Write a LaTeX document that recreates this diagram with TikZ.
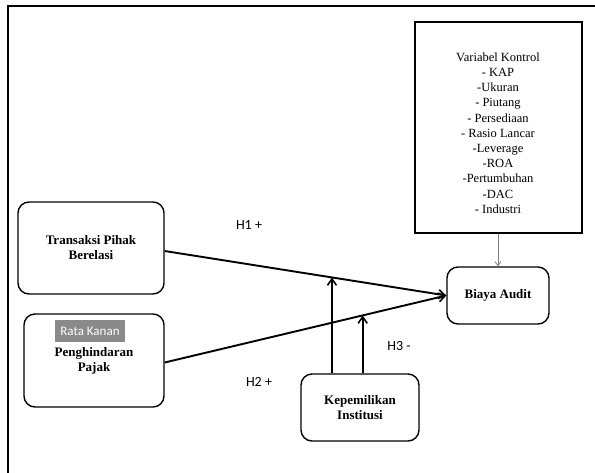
\documentclass[tikz,border=0pt]{standalone}
\usepackage{fontspec}
\setmainfont{Liberation Serif}[BoldFont={Liberation Serif Bold}]
\newfontfamily\boxfont{Liberation Serif Bold}
\newfontfamily\hfont{Carlito}
\usetikzlibrary{arrows.meta}
\definecolor{tipgray}{HTML}{8A8A8A}
\begin{document}
\begin{tikzpicture}[x=1pt,y=-1pt,
  varbox/.style={draw=black, line width=1.4pt, rounded corners=11pt, align=center, font=\boxfont\fontsize{13}{15}\selectfont, inner sep=0pt},
  conn/.style={line width=1.9pt, -{Straight Barb[length=6.5pt,width=9pt,line width=1.6pt]}},
  hlab/.style={font=\hfont\fontsize{14}{16}\selectfont, inner sep=0pt}
]
\useasboundingbox (0,0) rectangle (595,472);
% frame (left and top only)
\draw[line width=2pt] (7.5,473) -- (7.5,6) -- (596,6);

% boxes
\node[varbox, minimum width=146pt, minimum height=92pt] (t) at (91,248) {Transaksi Pihak\\Berelasi};
\node[varbox, minimum width=140pt, minimum height=93pt] (p) at (94,360.5) {Penghindaran\\Pajak};
\node[varbox, minimum width=102pt, minimum height=57pt] (b) at (498,295.5) {Biaya Audit};
\node[varbox, minimum width=118pt, minimum height=67pt] (k) at (360,407.5) {Kepemilikan\\Institusi};
\node[draw=black, line width=1.4pt, minimum width=167pt, minimum height=211pt, inner sep=0pt] (c) at (498.5,127.5) {};
\node[align=center, font=\fontsize{12.5}{15.2}\selectfont, inner sep=0pt] (ct) at (498,133) {Variabel Kontrol\\- KAP\\-Ukuran\\- Piutang\\- Persediaan\\- Rasio Lancar\\-Leverage\\-ROA\\-Pertumbuhan\\-DAC\\- Industri};

% overlay label
\node[fill=tipgray, text=white, font=\hfont\fontsize{13}{14}\selectfont, minimum width=70pt, minimum height=22pt, inner sep=0pt] (rk) at (90,331) {Rata Kanan};

% connectors
\draw[conn] ([yshift=-3pt]t.east) -- (b.west) coordinate[pos=0.594] (m1);
\draw[conn] ([yshift=-2pt]p.east) -- (b.west) coordinate[pos=0.703] (m2);
\draw[conn] (m1 |- k.north) -- (m1);
\draw[conn] (m2 |- k.north) -- (m2);
\draw[gray, line width=0.8pt, -{Straight Barb[length=4pt,width=6pt]}] (c.south -| b.north) -- (b.north);

% labels
\node[hlab] (h1) at (249,225) {H1 +};
\node[hlab] (h2) at (259,382) {H2 +};
\node[hlab] (h3) at (399,346) {H3 -};
\end{tikzpicture}
\end{document}
